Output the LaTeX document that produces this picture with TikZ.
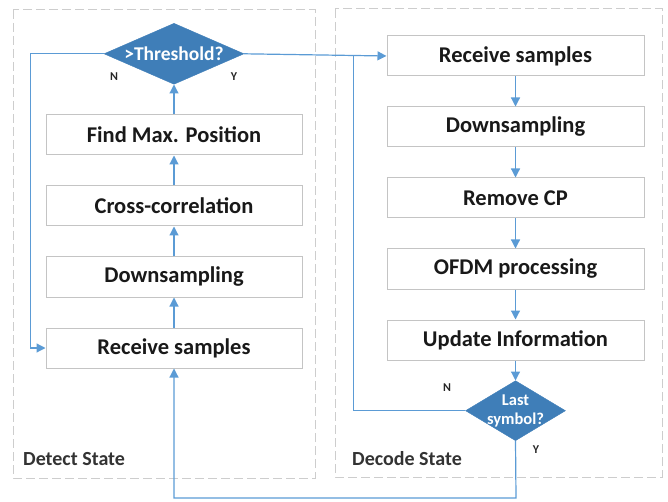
\documentclass[tikz,border=0pt]{standalone}
\usepackage{fontspec}
\setmainfont{Carlito}
\usepackage{xcolor}
\usetikzlibrary{shapes.geometric, arrows.meta, positioning, calc}
\definecolor{flowblue}{HTML}{5B9BD5}
\definecolor{decblue}{HTML}{3F7EB8}
\definecolor{boxgray}{HTML}{C4C4C4}
\definecolor{framegray}{HTML}{CDCDCD}
\tikzstyle{block} = [draw=boxgray, rectangle, fill=white, line width=1pt, minimum width=256pt, minimum height=40pt, text=black!90, font=\bfseries\fontsize{22.5}{26}\selectfont]
\tikzstyle{decision} = [diamond, draw=decblue, fill=decblue, inner sep=0pt]
\tikzstyle{dectext} = [text=white, align=center, font=\bfseries\fontsize{16.5}{19}\selectfont]
\tikzstyle{arrow} = [draw=flowblue, line width=1.2pt, -{Triangle[length=9pt,width=9pt]}]
\tikzstyle{line} = [draw=flowblue, line width=1.2pt]
\tikzstyle{frame} = [draw=framegray, line width=1pt, dash pattern=on 9pt off 4pt]
\tikzstyle{yn} = [text=black!85, font=\bfseries\fontsize{12}{14}\selectfont]
\tikzstyle{state} = [anchor=base west, inner sep=0pt, text=black!80, font=\bfseries\fontsize{20}{24}\selectfont]

\begin{document}
\begin{tikzpicture}[x=1pt, y=-1pt]
    \useasboundingbox (0,0) rectangle (668,502);
    % state frames
    \draw [frame] (13,10) rectangle (315,478);
    \draw [frame] (335,9) rectangle (662,477);
    \node (detlabel) [state] at (23,465) {Detect State};
    \node (declabel) [state] at (352,465) {Decode State};

    % detect state
    \node (lrecv) [block] at (174,348) {Receive samples};
    \node (ldown) [block, above=30pt of lrecv] {Downsampling};
    \node (xcorr) [block, above=30pt of ldown] {Cross-correlation};
    \node (findmax) [block, above=30pt of xcorr] {Find Max. Position};
    \node (thresh) [decision, above=30pt of findmax, minimum width=140pt, minimum height=61pt, label={[dectext, font=\bfseries\fontsize{19.5}{22}\selectfont]center:{>Threshold?}}] {};
    \node (threshN) [yn] at (114,77) {N};
    \node (threshY) [yn] at (234,77) {Y};

    % decode state
    \node (rrecv) [block, minimum width=257pt] at (515.5,56) {Receive samples};
    \node (rdown) [block, minimum width=257pt, below=30pt of rrecv] {Downsampling};
    \node (rmcp) [block, minimum width=257pt, below=30pt of rdown] {Remove CP};
    \node (ofdm) [block, minimum width=257pt, below=30pt of rmcp] {OFDM processing};
    \node (update) [block, minimum width=257pt, below=30pt of ofdm] {Update Information};
    \node (lastsym) [decision, below=20pt of update, minimum width=100pt, minimum height=60pt, label={[dectext]center:{Last\\symbol?}}] {};
    \node (lastN) [yn] at (447,388) {N};
    \node (lastY) [yn] at (536,450) {Y};

    \coordinate (ybottom) at (516,498);

    \draw [arrow] (lrecv) -- (ldown);
    \draw [arrow] (ldown) -- (xcorr);
    \draw [arrow] (xcorr) -- (findmax);
    \draw [arrow] (findmax) -- (thresh);
    \draw [arrow] (thresh.west) -| ($(lrecv.west)+(-15pt,0)$) -- (lrecv.west);
    \draw [arrow] (thresh.east) -- (rrecv.west);

    \draw [arrow] (rrecv) -- (rdown);
    \draw [arrow] (rdown) -- (rmcp);
    \draw [arrow] (rmcp) -- (ofdm);
    \draw [arrow] (ofdm) -- (update);
    \draw [arrow] (update) -- (lastsym);
    \draw [line] (lastsym.west) -| ($(rrecv.west)+(-33pt,0)$);
    \draw [arrow] (lastsym.south) -- (ybottom) -| (lrecv.south);
\end{tikzpicture}
\end{document}
